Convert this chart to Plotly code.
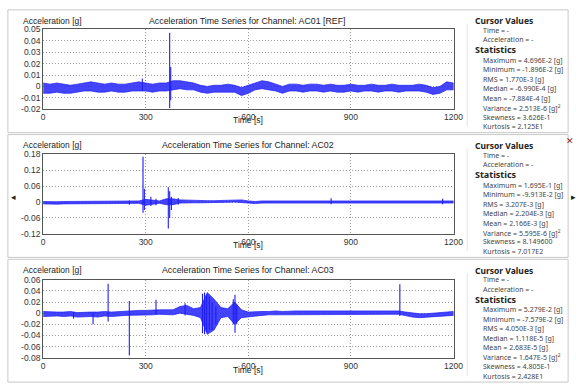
import plotly.graph_objects as go

# ---------------- data ----------------
t_grid = list(range(0, 1201, 20))

ac01_hi = [0.003, 0.002, 0.003, 0.002, 0.001, 0.002, 0.003, 0.004, 0.003, 0.002,
           0.003, 0.002, 0.002, 0.003, 0.004, 0.003, 0.002, 0.003, 0.003, 0.005,
           0.005, 0.004, 0.003, 0.001, 0.000, 0.001, 0.001, 0.002, 0.001, -0.001,
           0.001, 0.003, 0.005, 0.004, 0.002, 0.000, 0.002, 0.002, 0.001, 0.002,
           0.002, 0.001, 0.002, 0.001, 0.001, 0.002, 0.001, 0.001, 0.002, 0.001,
           0.001, 0.002, 0.001, 0.001, 0.001, 0.002, 0.001, -0.001, 0.000, 0.004, 0.003]
ac01_lo = [-0.006, -0.006, -0.005, -0.006, -0.006, -0.005, -0.004, -0.004, -0.005, -0.005,
           -0.004, -0.005, -0.005, -0.004, -0.004, -0.004, -0.005, -0.004, -0.004, -0.003,
           -0.002, -0.003, -0.003, -0.005, -0.006, -0.005, -0.005, -0.005, -0.005, -0.008,
           -0.006, -0.003, -0.002, -0.003, -0.004, -0.006, -0.004, -0.004, -0.005, -0.004,
           -0.004, -0.005, -0.004, -0.005, -0.005, -0.004, -0.005, -0.004, -0.004, -0.005,
           -0.004, -0.004, -0.005, -0.004, -0.004, -0.004, -0.005, -0.007, -0.006, -0.003, -0.003]
ac01_spike_t = [290, 370, 373]
ac01_spike_hi = [0.007, 0.047, 0.017]
ac01_spike_lo = [-0.004, -0.019, -0.012]

ac02_hi = [0.002, 0.001, 0.001, 0.002, 0.002, 0.002, 0.003, 0.003, 0.003, 0.002,
           0.002, 0.003, 0.003, 0.003, 0.004, 0.010, 0.008, 0.004, 0.012, 0.012,
           0.008, 0.007, 0.005, 0.005, 0.005, 0.005, 0.006, 0.008, 0.009, 0.008,
           0.004, 0.002, 0.004, 0.004, 0.004, 0.004, 0.005, 0.004, 0.004, 0.005,
           0.004, 0.004, 0.005, 0.004, 0.004, 0.005, 0.004, 0.004, 0.005, 0.004,
           0.004, 0.005, 0.004, 0.004, 0.005, 0.004, 0.004, 0.005, 0.005, 0.004, 0.004]
ac02_lo = [-0.007, -0.007, -0.008, -0.007, -0.006, -0.006, -0.006, -0.005, -0.005, -0.006,
           -0.006, -0.005, -0.005, -0.005, -0.005, -0.012, -0.008, -0.005, -0.010, -0.010,
           -0.004, -0.004, -0.003, -0.003, -0.003, -0.003, -0.002, -0.001, 0.000, -0.001,
           -0.004, -0.006, -0.004, -0.004, -0.003, -0.004, -0.004, -0.004, -0.003, -0.004,
           -0.004, -0.003, -0.004, -0.004, -0.003, -0.004, -0.004, -0.003, -0.004, -0.004,
           -0.003, -0.004, -0.004, -0.003, -0.004, -0.004, -0.003, -0.004, -0.004, -0.004, -0.004]
ac02_spike_t = [252, 292, 296, 315, 330, 366, 370, 375, 395, 842, 1168]
ac02_spike_hi = [0.006, 0.170, 0.050, 0.020, 0.012, 0.055, 0.040, 0.020, 0.015, 0.014, 0.012]
ac02_spike_lo = [-0.010, -0.040, -0.030, -0.015, -0.012, -0.099, -0.060, -0.030, -0.010, -0.008, -0.008]

ac03_hi = [0.003, 0.002, 0.002, 0.002, 0.003, 0.001, 0.002, 0.002, 0.002, 0.003,
           0.002, 0.003, 0.004, 0.004, 0.005, 0.005, 0.006, 0.006, 0.006, 0.006,
           0.012, 0.014, 0.008, 0.010, 0.037, 0.025, 0.010, 0.008, 0.020, 0.006,
           0.002, 0.003, 0.003, 0.003, 0.004, 0.003, 0.004, 0.004, 0.004, 0.004,
           0.004, 0.004, 0.004, 0.004, 0.004, 0.004, 0.004, 0.004, 0.004, 0.004,
           0.004, 0.004, 0.004, 0.002, 0.000, -0.001, -0.001, 0.000, 0.001, 0.002, 0.003]
ac03_lo = [-0.006, -0.006, -0.005, -0.006, -0.005, -0.007, -0.006, -0.006, -0.007, -0.005,
           -0.006, -0.005, -0.004, -0.004, -0.003, -0.003, -0.003, -0.002, -0.002, -0.003,
           0.000, -0.002, -0.004, -0.008, -0.038, -0.030, -0.008, -0.006, -0.020, -0.008,
           -0.006, -0.005, -0.004, -0.003, -0.003, -0.003, -0.003, -0.002, -0.002, -0.002,
           -0.002, -0.003, -0.002, -0.003, -0.002, -0.002, -0.003, -0.002, -0.002, -0.003,
           -0.002, -0.002, -0.002, -0.005, -0.007, -0.008, -0.008, -0.007, -0.006, -0.005, -0.004]
ac03_spike_t = [89, 146, 190, 252, 330, 415, 466, 472, 478, 486, 494, 505, 556, 561, 566, 1043]
ac03_spike_hi = [0.001, 0.000, 0.053, 0.022, 0.024, 0.018, 0.035, 0.037, 0.033, 0.030, 0.020, 0.012,
                 0.025, 0.033, 0.015, 0.052]
ac03_spike_lo = [-0.010, -0.020, -0.015, -0.076, -0.002, -0.004, -0.036, -0.038, -0.034, -0.030,
                 -0.030, -0.020, -0.020, -0.035, -0.020, -0.005]

x_ticks = [0, 300, 600, 900, 1200]
x_ticktext = ["0", "300", "600", "900", "1200"]

y1_ticks = [0.05, 0.04, 0.03, 0.02, 0.01, 0, -0.01, -0.02]
y1_text = ["0.05", "0.04", "0.03", "0.02", "0.01", "0", "-0.01", "-0.02"]
y2_ticks = [0.18, 0.12, 0.06, 0, -0.06, -0.12]
y2_text = ["0.18", "0.12", "0.06", "0", "-0.06", "-0.12"]
y3_ticks = [0.06, 0.04, 0.02, 0, -0.02, -0.04, -0.06, -0.08]
y3_text = ["0.06", "0.04", "0.02", "0", "-0.02", "-0.04", "-0.06", "-0.08"]

titles = ["Acceleration Time Series for Channel: AC01 [REF]",
          "Acceleration Time Series for Channel: AC02",
          "Acceleration Time Series for Channel: AC03"]

stats = [
    ["Maximum = 4.696E-2 [g]", "Minimum = -1.896E-2 [g]", "RMS = 1.770E-3 [g]",
     "Median = -6.990E-4 [g]", "Mean = -7.884E-4 [g]", "Variance = 2.513E-6 [g]<sup>2</sup>",
     "Skewness = 3.626E-1", "Kurtosis = 2.125E1"],
    ["Maximum = 1.695E-1 [g]", "Minimum = -9.913E-2 [g]", "RMS = 3.207E-3 [g]",
     "Median = 2.204E-3 [g]", "Mean = 2.166E-3 [g]", "Variance = 5.595E-6 [g]<sup>2</sup>",
     "Skewness = 8.149600", "Kurtosis = 7.017E2"],
    ["Maximum = 5.279E-2 [g]", "Minimum = -7.579E-2 [g]", "RMS = 4.050E-3 [g]",
     "Median = 1.118E-5 [g]", "Mean = 2.683E-5 [g]", "Variance = 1.647E-5 [g]<sup>2</sup>",
     "Skewness = 4.805E-1", "Kurtosis = 2.428E1"],
]

# ---------------- layout helpers ----------------
W, H = 584, 390
def px(x):
    return x / W
def py(y):
    return 1 - y / H

BLUE = "rgb(30,30,245)"
FILL = "rgba(35,35,250,0.85)"
channels = [
    (ac01_hi, ac01_lo, ac01_spike_t, ac01_spike_hi, ac01_spike_lo, y1_ticks, y1_text),
    (ac02_hi, ac02_lo, ac02_spike_t, ac02_spike_hi, ac02_spike_lo, y2_ticks, y2_text),
    (ac03_hi, ac03_lo, ac03_spike_t, ac03_spike_hi, ac03_spike_lo, y3_ticks, y3_text),
]
plot_top = [25, 153, 282]
plot_bot = [107, 235, 362]
panel_off = [0, 128, 256]

fig = go.Figure()
layout = dict(width=W, height=H, margin=dict(l=0, r=0, t=0, b=0),
              paper_bgcolor="white", plot_bgcolor="white", showlegend=False,
              annotations=[], shapes=[])

for i, (hi, lo, st, sh, sl, yt, ytx) in enumerate(channels):
    n = "" if i == 0 else str(i + 1)
    xa, ya = "x" + n, "y" + n
    fig.add_trace(go.Scatter(x=t_grid + t_grid[::-1], y=hi + lo[::-1], fill="toself",
                             fillcolor=FILL, line=dict(color=BLUE, width=0.7),
                             mode="lines", xaxis=xa, yaxis=ya, hoverinfo="skip"))
    sx, sy = [], []
    for t, h, l in zip(st, sh, sl):
        sx += [t, t, None]
        sy += [l, h, None]
    fig.add_trace(go.Scatter(x=sx, y=sy, mode="lines", line=dict(color=BLUE, width=1.1),
                             xaxis=xa, yaxis=ya, hoverinfo="skip", connectgaps=False))
    axfont = dict(family="Liberation Sans, Arial", size=8.5, color="#333")
    common = dict(showgrid=True, gridcolor="#9a9a9a", griddash="1px,2px", gridwidth=1,
                  showline=True, linecolor="#555", linewidth=1, mirror=True,
                  zeroline=False, ticks="", tickfont=axfont, fixedrange=True)
    layout["xaxis" + n] = dict(domain=[px(42), px(461)], range=[0, 1200], anchor=ya,
                               tickvals=x_ticks, ticktext=x_ticktext, **common)
    layout["yaxis" + n] = dict(domain=[py(plot_bot[i]), py(plot_top[i])],
                               range=[yt[-1], yt[0]], anchor=xa,
                               tickvals=yt, ticktext=ytx, **common)
    o = panel_off[i]
    layout["annotations"] += [
        dict(text="Acceleration [g]", x=px(19), y=py(16 + o), xref="paper", yref="paper",
             xanchor="left", yanchor="middle", showarrow=False,
             font=dict(family="Liberation Sans, Arial", size=8.5, color="#222")),
        dict(text=titles[i], x=px(251), y=py(16 + o), xref="paper", yref="paper",
             xanchor="center", yanchor="middle", showarrow=False,
             font=dict(family="Liberation Sans, Arial", size=8.8, color="#222")),
        dict(text="Time [s]", x=px(251), y=py(118.5 + o), xref="paper", yref="paper",
             xanchor="center", yanchor="middle", showarrow=False,
             font=dict(family="Liberation Sans, Arial", size=8.5, color="#222")),
        dict(text="<b>Cursor Values</b>", x=px(481), y=py(16 + o), xref="paper", yref="paper",
             xanchor="left", yanchor="middle", showarrow=False,
             font=dict(family="Noto Sans", size=8.5, color="#222")),
        dict(text="Time = -", x=px(489), y=py(26 + o), xref="paper", yref="paper",
             xanchor="left", yanchor="middle", showarrow=False,
             font=dict(family="Noto Sans", size=7, color="#444")),
        dict(text="Acceleration = -", x=px(489), y=py(35.5 + o), xref="paper", yref="paper",
             xanchor="left", yanchor="middle", showarrow=False,
             font=dict(family="Noto Sans", size=7, color="#444")),
        dict(text="<b>Statistics</b>", x=px(481), y=py(46 + o), xref="paper", yref="paper",
             xanchor="left", yanchor="middle", showarrow=False,
             font=dict(family="Noto Sans", size=9, color="#222")),
    ]
    for k, s in enumerate(stats[i]):
        layout["annotations"].append(
            dict(text=s, x=px(489), y=py(57 + k * 9.7 + o), xref="paper", yref="paper",
                 xanchor="left", yanchor="middle", showarrow=False,
                 font=dict(family="Noto Sans", size=7, color="#444")))
    top = 5 + o
    bot = 131 + o
    layout["shapes"] += [
        dict(type="rect", xref="paper", yref="paper", x0=px(6), x1=px(578),
             y0=py(bot), y1=py(top), line=dict(color="#c8c8c8", width=1)),
        dict(type="line", xref="paper", yref="paper", x0=px(475), x1=px(475),
             y0=py(bot - 6), y1=py(top + 14), line=dict(color="#e4e4e4", width=1)),
    ]

layout["annotations"] += [
    dict(text="✕", x=px(580), y=py(140), xref="paper", yref="paper", showarrow=False,
         xanchor="center", yanchor="middle", font=dict(family="DejaVu Sans", size=9, color="#a02020")),
    dict(text="◂", x=px(12), y=py(197), xref="paper", yref="paper", showarrow=False,
         xanchor="center", yanchor="middle", font=dict(family="DejaVu Sans", size=9, color="#222")),
    dict(text="▸", x=px(583), y=py(197), xref="paper", yref="paper", showarrow=False,
         xanchor="center", yanchor="middle", font=dict(family="DejaVu Sans", size=9, color="#222")),
]

fig.update_layout(**layout)
fig.write_html("out.html")
